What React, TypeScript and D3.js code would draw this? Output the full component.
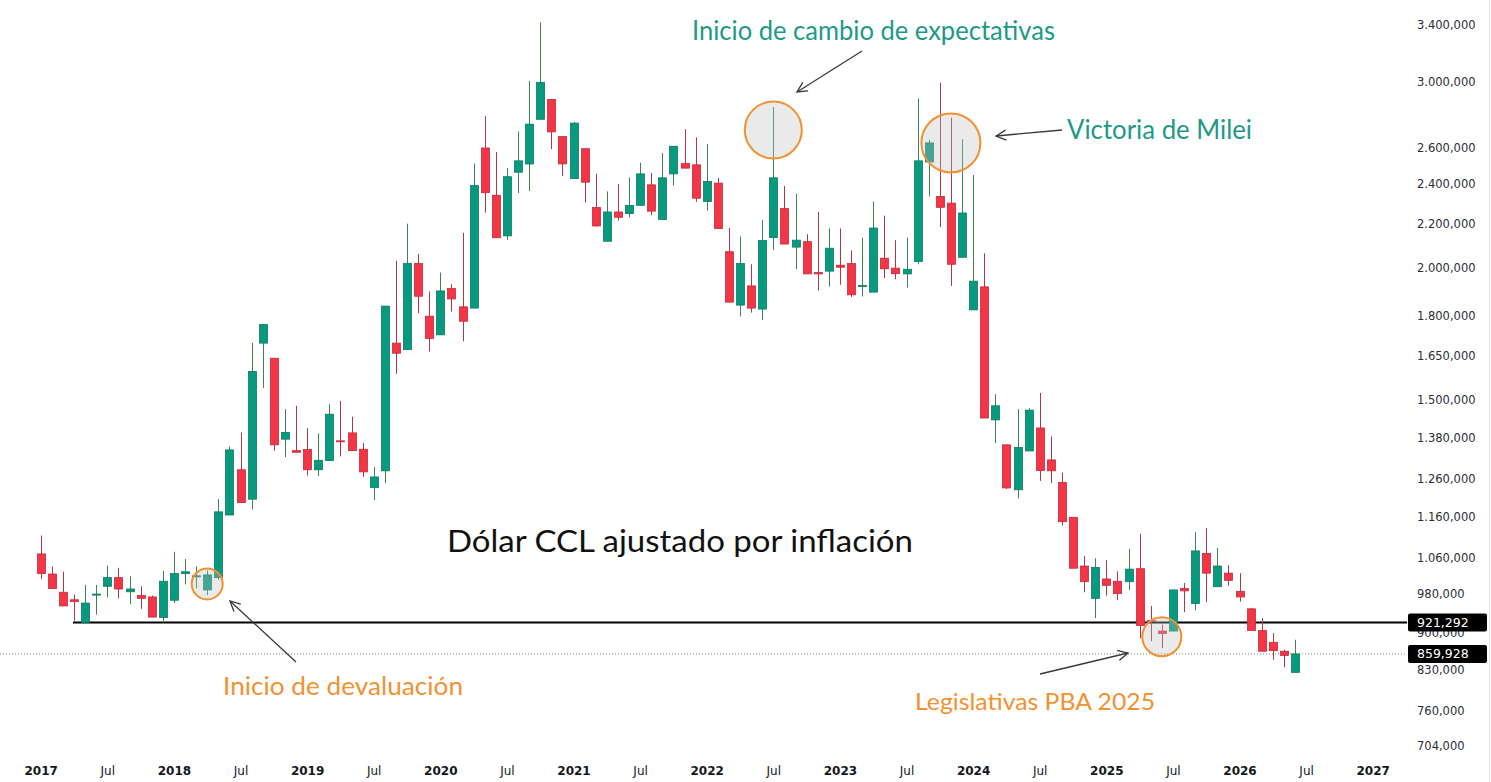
import React, { useEffect, useRef } from 'react';
import * as d3 from 'd3';

// Monthly candles, Jan 2017 -> Jun 2026 (one row per year)
const firstMonth = '2017-01';

const openValues = [
  1070, 1024, 984, 968, 921.3, 978, 997, 1016, 985, 977, 974, 931,
  967, 1025, 1019, 989, 1016, 1165, 1286, 1206, 1696, 1641, 1375, 1341,
  1344, 1286, 1312, 1370, 1394, 1345, 1237, 1283, 1696, 1672, 2018, 1799,
  1727, 1911, 1836, 1831, 2598, 2343, 2144, 2464, 2509, 2766, 2889, 2664,
  2430, 2594, 2281, 2119, 2259, 2251, 2292, 2397, 2222, 2455, 2511, 2504,
  2311, 2406, 2071, 1843, 1922, 1827, 2136, 2276, 2092, 2117, 1979, 1985,
  2011, 2018, 1920, 1896, 2042, 1998, 1973, 2027, 2520, 2337, 2303, 2046,
  1824, 1918, 1434, 1358, 1231, 1340, 1409, 1314, 1251, 1159, 1042, 971,
  1013, 1008, 1007, 1036, 925, 904, 904, 992, 960, 1071, 996, 1026,
  986, 949, 905, 882, 865, 826,
];

const highValues = [
  1114, 1041, 1029, 979, 1000, 1000, 1043, 1038, 1019, 997, 977, 1031,
  1075, 1058, 1041, 1032, 1206, 1353, 1395, 1697, 1766, 1641, 1468, 1479,
  1409, 1392, 1484, 1495, 1444, 1363, 1294, 1839, 2031, 2202, 2061, 1899,
  1979, 1929, 2158, 2511, 2785, 2575, 2486, 2693, 3008, 3419, 2889, 2664,
  2750, 2594, 2456, 2363, 2402, 2436, 2516, 2460, 2569, 2608, 2707, 2659,
  2621, 2434, 2182, 2141, 2015, 2220, 2841, 2391, 2351, 2152, 2259, 2179,
  2179, 2077, 2136, 2311, 2241, 2124, 2136, 2895, 2644, 2997, 2776, 2648,
  2449, 2064, 1517, 1358, 1468, 1471, 1521, 1383, 1278, 1159, 1065, 1060,
  1056, 1030, 1082, 1118, 955, 917, 989, 1004, 1122, 1132, 1084, 1044,
  1026, 951, 930, 900, 868, 887,
];

const lowValues = [
  1013, 992, 955, 925, 921.3, 937, 973, 971, 959, 949, 932, 921,
  961, 1001, 992, 978, 1011, 1165, 1196, 1179, 1538, 1341, 1322, 1336,
  1270, 1269, 1312, 1324, 1341, 1266, 1204, 1249, 1586, 1672, 1811, 1665,
  1727, 1817, 1703, 1831, 2256, 2135, 2125, 2354, 2365, 2766, 2592, 2444,
  2430, 2307, 2188, 2119, 2217, 2233, 2292, 2243, 2222, 2393, 2486, 2310,
  2265, 2179, 1855, 1798, 1813, 1784, 2079, 2106, 1994, 1973, 1903, 1919,
  1927, 1876, 1878, 1896, 1955, 1950, 1915, 2015, 2337, 2186, 1922, 2046,
  1824, 1440, 1363, 1233, 1208, 1340, 1255, 1249, 1139, 1037, 984, 930,
  977, 967, 989, 890, 884, 871, 904, 942, 946, 963, 996, 998,
  964, 905, 865, 849, 835, 826,
];

const closeValues = [
  1025, 992, 955, 964, 961, 980, 1016, 991, 991, 971, 932, 1008,
  1025, 1029, 1020, 1022, 1173, 1343, 1197, 1594, 1766, 1358, 1395, 1336,
  1286, 1313, 1452, 1367, 1341, 1280, 1266, 1839, 1659, 2018, 1879, 1713,
  1901, 1868, 1779, 2393, 2356, 2135, 2440, 2526, 2737, 2999, 2691, 2509,
  2743, 2411, 2191, 2259, 2233, 2292, 2455, 2263, 2434, 2608, 2486, 2328,
  2415, 2179, 1855, 2018, 1831, 2122, 2434, 2106, 2124, 1973, 1973, 2087,
  2002, 1885, 1924, 2181, 1995, 1974, 1993, 2526, 2627, 2282, 2015, 2254,
  1942, 1440, 1479, 1236, 1350, 1465, 1284, 1283, 1148, 1037, 1007, 1039,
  999, 981, 1035, 915, 923, 899, 989, 987, 1077, 1026, 1042, 1010,
  974, 905, 865, 866, 857, 859.928,
];

const yTickValues = [3400, 3000, 2600, 2400, 2200, 2000, 1800, 1650, 1500, 1380, 1260, 1160, 1060, 980, 900, 830, 760, 704];

const xTickLabels = [
  '2017', 'Jul', '2018', 'Jul', '2019', 'Jul', '2020', 'Jul', '2021', 'Jul', '2022',
  'Jul', '2023', 'Jul', '2024', 'Jul', '2025', 'Jul', '2026', 'Jul', '2027',
];

const supportLevel = 921.292;
const lastClose = 859.928;

// circled candles: month index + price at circle centre
const highlights = [
  { idx: 15, price: 1002, r: 15.5 },
  { idx: 66, price: 2702, r: 28.5 },
  { idx: 82, price: 2627, r: 29.5 },
  { idx: 101, price: 893, r: 19.5 },
];

const TEAL = '#1d9a86';
const ORANGE = '#f3902f';

export default function App() {
  const svgRef = useRef<SVGSVGElement>(null);

  useEffect(() => {
    if (!svgRef.current) return;
    const svg = d3.select(svgRef.current);
    svg.selectAll('*').remove();

    const width = 1491;
    const height = 782;
    const plotRight = 1407;
    const plotBottom = 760;

    const start = d3.timeParse('%Y-%m')(firstMonth) as Date;
    const data = openValues.map((open, i) => ({
      i,
      month: d3.timeMonth.offset(start, i),
      open,
      high: highValues[i],
      low: lowValues[i],
      close: closeValues[i],
    }));

    const x = d3.scaleLinear().domain([0, 120]).range([40.7, 1372.7]);
    const y = d3.scaleLog().domain([682, 3590]).range([plotBottom, 0]);

    const esLocale = d3.formatLocale({ decimal: ',', thousands: '.', grouping: [3], currency: ['$', ''] });
    const fmt = esLocale.format(',.3f');

    svg.append('rect').attr('width', width).attr('height', height).attr('fill', '#ffffff');

    const defs = svg.append('defs');
    defs.append('marker')
      .attr('id', 'arrowHead')
      .attr('viewBox', '-12 -7 14 14')
      .attr('refX', 0)
      .attr('refY', 0)
      .attr('markerWidth', 14)
      .attr('markerHeight', 14)
      .attr('markerUnits', 'userSpaceOnUse')
      .attr('orient', 'auto')
      .append('path')
      .attr('d', 'M-10,-5 L0,0 L-10,5')
      .attr('fill', 'none')
      .attr('stroke', '#3a3a3a')
      .attr('stroke-width', 1.3);

    // right border of the price scale
    svg.append('line')
      .attr('x1', 1489.5).attr('x2', 1489.5)
      .attr('y1', 0).attr('y2', height)
      .attr('stroke', '#e0e3eb');

    // last close dotted line
    svg.append('line')
      .attr('x1', 0).attr('x2', plotRight)
      .attr('y1', y(lastClose)).attr('y2', y(lastClose))
      .attr('stroke', '#8a8a8a')
      .attr('stroke-dasharray', '1,2');

    // support line
    svg.append('line')
      .attr('x1', x(3) - 1).attr('x2', plotRight)
      .attr('y1', y(supportLevel)).attr('y2', y(supportLevel))
      .attr('stroke', '#000000')
      .attr('stroke-width', 2);

    // Candles
    const up = (d: typeof data[0]) => d.close >= d.open;
    const g = svg.append('g');

    g.selectAll('.wick')
      .data(data)
      .enter()
      .append('line')
      .attr('class', 'wick')
      .attr('x1', d => Math.round(x(d.i)) + 0.5)
      .attr('x2', d => Math.round(x(d.i)) + 0.5)
      .attr('y1', d => y(d.high))
      .attr('y2', d => y(d.low))
      .attr('stroke', d => (up(d) ? '#3d8452' : '#ab3a49'))
      .attr('stroke-width', 1);

    g.selectAll('.body')
      .data(data)
      .enter()
      .append('rect')
      .attr('class', 'body')
      .attr('x', d => Math.round(x(d.i)) - 3.5)
      .attr('y', d => y(Math.max(d.open, d.close)))
      .attr('width', 8)
      .attr('height', d => Math.max(1, Math.abs(y(d.open) - y(d.close))))
      .attr('fill', d => (up(d) ? '#089981' : '#f23645'))
      .attr('stroke', d => (up(d) ? '#0b7d5c' : '#c92a3e'))
      .attr('stroke-width', 0.8);

    // Highlight circles
    svg.selectAll('.hl')
      .data(highlights)
      .enter()
      .append('circle')
      .attr('class', 'hl')
      .attr('cx', d => x(d.idx))
      .attr('cy', d => y(d.price))
      .attr('r', d => d.r)
      .attr('fill', 'rgba(190,190,190,0.33)')
      .attr('stroke', ORANGE)
      .attr('stroke-width', 2);

    // Arrows (tail -> head)
    const arrows = [
      [862, 51, 797, 92],
      [1062, 130, 996, 136],
      [296, 662, 230, 601],
      [1040, 674, 1128, 653],
    ];
    svg.selectAll('.arrow')
      .data(arrows)
      .enter()
      .append('line')
      .attr('class', 'arrow')
      .attr('x1', d => d[0]).attr('y1', d => d[1])
      .attr('x2', d => d[2]).attr('y2', d => d[3])
      .attr('stroke', '#3a3a3a')
      .attr('stroke-width', 1.3)
      .attr('marker-end', 'url(#arrowHead)');

    // Annotation texts
    const notes = [
      { text: 'Inicio de cambio de expectativas', x: 692, y: 39.5, size: 26, len: 363, color: TEAL },
      { text: 'Victoria de Milei', x: 1067, y: 138.5, size: 26, len: 185, color: TEAL },
      { text: 'Inicio de devaluación', x: 223, y: 695, size: 25, len: 240, color: ORANGE },
      { text: 'Legislativas PBA 2025', x: 915, y: 710, size: 23.5, len: 240, color: ORANGE },
      { text: 'Dólar CCL ajustado por inflación', x: 447, y: 552, size: 30, len: 466, color: '#111111' },
    ];
    svg.selectAll('.note')
      .data(notes)
      .enter()
      .append('text')
      .attr('class', 'note')
      .attr('x', d => d.x)
      .attr('y', d => d.y)
      .attr('font-family', 'Lato, "Open Sans", sans-serif')
      .attr('font-size', d => d.size)
      .attr('textLength', d => d.len)
      .attr('lengthAdjust', 'spacingAndGlyphs')
      .attr('fill', d => d.color)
      .text(d => d.text);

    // Y axis (right)
    const yAxis = d3.axisRight(y)
      .tickValues(yTickValues)
      .tickFormat(d => fmt(d as number))
      .tickSize(0)
      .tickPadding(10);

    svg.append('g')
      .attr('transform', `translate(${plotRight},0)`)
      .call(yAxis)
      .call(a => a.select('.domain').remove())
      .selectAll('text')
      .attr('fill', '#2a2e39')
      .attr('font-family', '"DejaVu Sans", sans-serif')
      .attr('font-size', 11.5);

    // price labels on the scale
    const tags = [supportLevel, lastClose];
    const tag = svg.selectAll('.tag')
      .data(tags)
      .enter()
      .append('g')
      .attr('class', 'tag')
      .attr('transform', d => `translate(1408,${y(d)})`);
    tag.append('rect')
      .attr('x', 0).attr('y', -9)
      .attr('width', 79).attr('height', 18)
      .attr('rx', 2)
      .attr('fill', '#000000');
    tag.append('text')
      .attr('x', 9)
      .attr('dy', '0.36em')
      .attr('fill', '#ffffff')
      .attr('font-family', '"DejaVu Sans", sans-serif')
      .attr('font-size', 12.5)
      .text(d => fmt(d));

    // X axis (bottom)
    const xTickIdx = xTickLabels.map((_, k) => k * 6);
    const xAxis = d3.axisBottom(x)
      .tickValues(xTickIdx)
      .tickFormat((_, k) => xTickLabels[k])
      .tickSize(0)
      .tickPadding(6);

    svg.append('g')
      .attr('transform', `translate(0,${plotBottom})`)
      .call(xAxis)
      .call(a => a.select('.domain').remove())
      .selectAll('text')
      .attr('fill', '#131722')
      .attr('font-family', '"DejaVu Sans", sans-serif')
      .attr('font-size', 12)
      .attr('font-weight', (_, k) => (xTickLabels[k] === 'Jul' ? 'normal' : 'bold'));
  }, []);

  return (
    <svg
      ref={svgRef}
      width={1491}
      height={782}
      style={{ position: 'absolute', left: 0, top: 0, display: 'block' }}
    />
  );
}
